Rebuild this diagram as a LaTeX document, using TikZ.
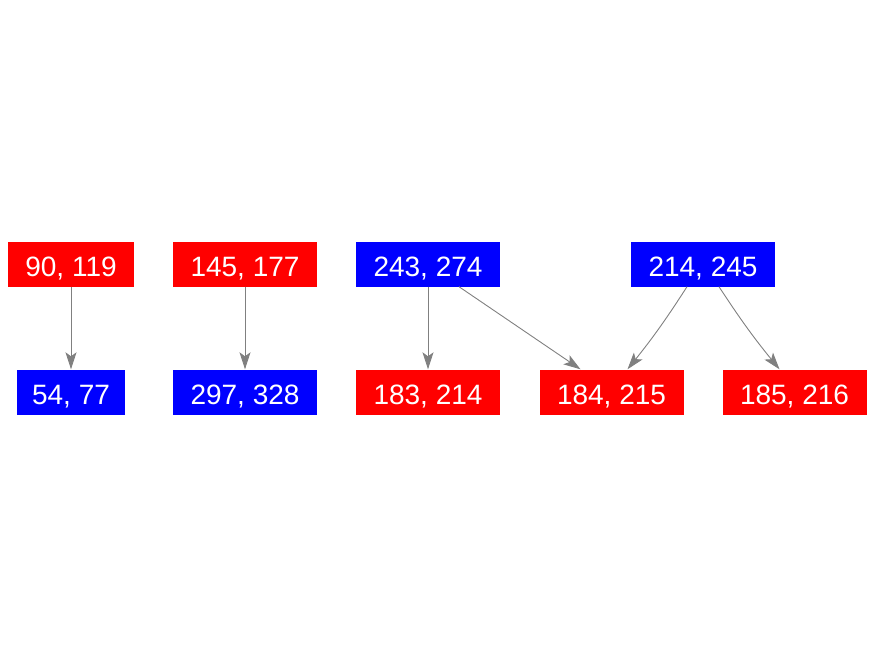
\documentclass[tikz,border=0pt]{standalone}
\usepackage{fontspec}
\setmainfont{Liberation Sans}
\usetikzlibrary{arrows.meta}
\tikzset{
  box/.style={rectangle, text=white, minimum width=144pt, minimum height=45pt, inner sep=0pt, text height=25pt, text depth=0pt, font=\fontsize{28}{32}\selectfont},
  redbox/.style={box, fill=red},
  bluebox/.style={box, fill=blue},
  link/.style={draw, gray, line width=0.9pt, -{Stealth[length=17pt, width=11pt, inset=4pt]}}
}

\begin{document}
\begin{tikzpicture}[x=1pt, y=-1pt]
        \useasboundingbox (0,0) rectangle (875,656);
        %nodes
        \node[redbox, minimum width=126pt] (n90) at (71, 264) {90, 119};
        \node[redbox] (n145) at (245, 264) {145, 177};
        \node[bluebox] (n243) at (428, 264) {243, 274};
        \node[bluebox] (n214) at (703, 264) {214, 245};
        \node[bluebox, minimum width=108pt] (n54) at (71, 392) {54, 77};
        \node[bluebox] (n297) at (245, 392) {297, 328};
        \node[redbox] (n183) at (428, 392) {183, 214};
        \node[redbox] (n184) at (611.5, 392) {184, 215};
        \node[redbox] (n185) at (794.5, 392) {185, 216};
        %edges
        \path [link] (n90) to (n54);
        \path [link] (n145) to (n297);
        \path [link] (n243) to (n183);
        \path [link] ([xshift=31pt]n243.south) to ([xshift=-31pt]n184.north);
        \path [link] ([xshift=-16pt]n214.south) to [bend left=3] ([xshift=16pt]n184.north);
        \path [link] ([xshift=16pt]n214.south) to [bend right=3] ([xshift=-15pt]n185.north);
      \end{tikzpicture}
\end{document}
